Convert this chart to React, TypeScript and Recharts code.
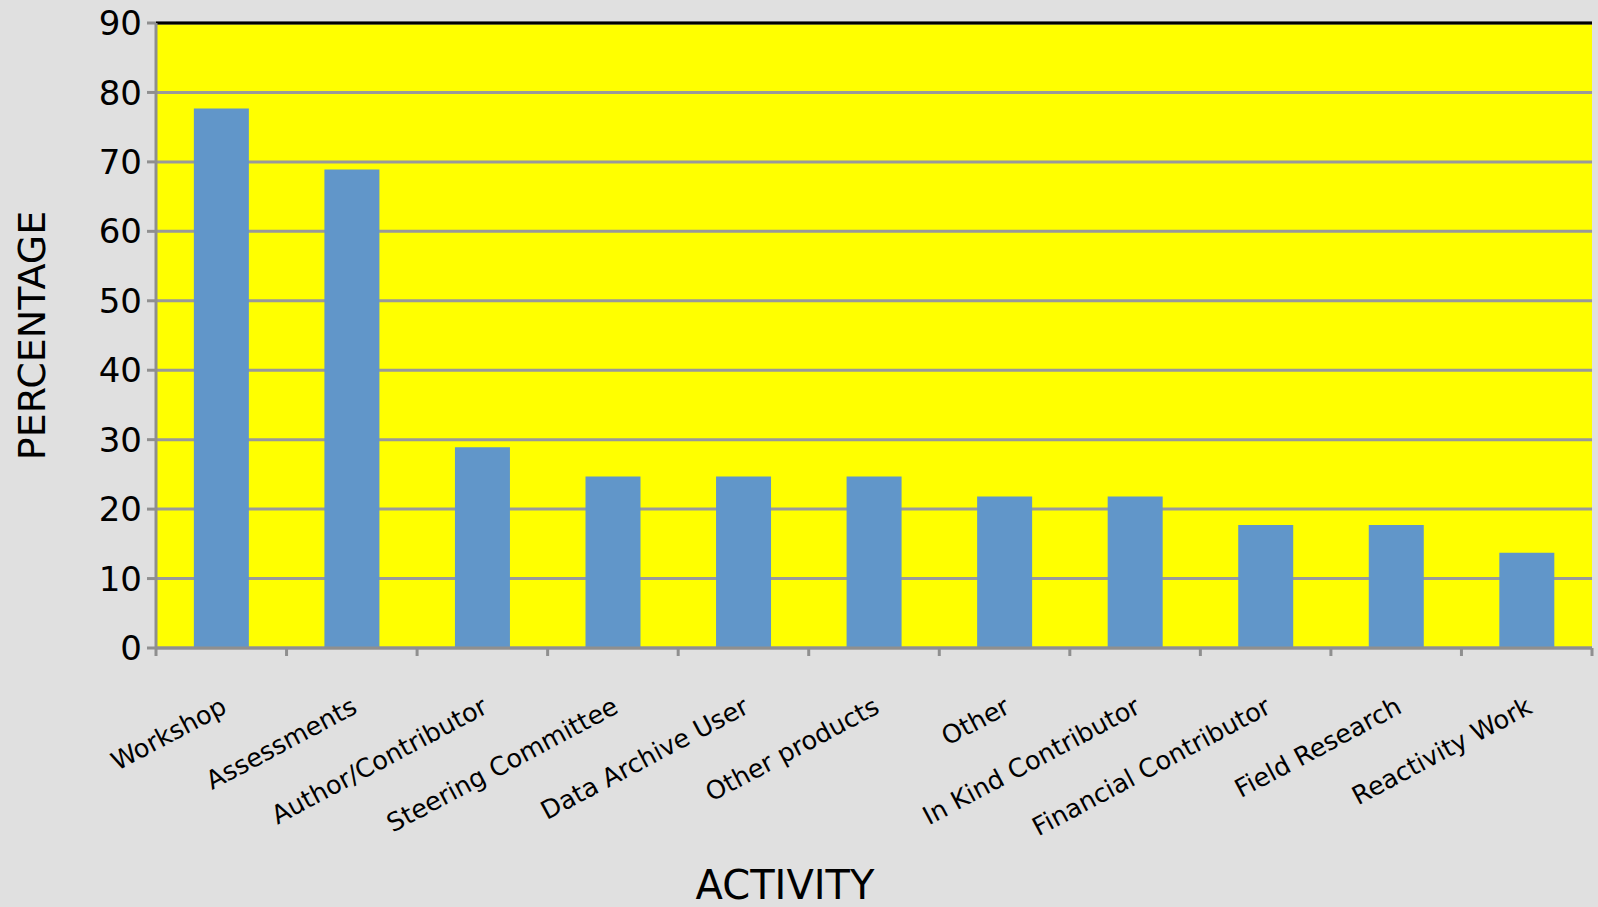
import React from 'react';
import {
  BarChart,
  Bar,
  CartesianGrid,
  XAxis,
  YAxis,
  ReferenceLine,
} from 'recharts';

// activities, in the order they are shown
const categories = [
  'Workshop',
  'Assessments',
  'Author/Contributor',
  'Steering Committee',
  'Data Archive User',
  'Other products',
  'Other',
  'In Kind Contributor',
  'Financial Contributor',
  'Field Research',
  'Reactivity Work',
];

// percentage of respondents per activity
const percentages = [77.7, 68.9, 28.9, 24.7, 24.7, 24.7, 21.8, 21.8, 17.7, 17.7, 13.7];

const yTicks = [0, 10, 20, 30, 40, 50, 60, 70, 80, 90];

const FONT = '"DejaVu Sans", Verdana, sans-serif';

const chartData = categories.map((activity, i) => ({
  activity,
  value: percentages[i],
}));

// category label plus tick marks on the band edges
const ActivityTick = (props: any) => {
  const { x, y, payload, index } = props;
  const half = payload?.offset ?? 65;
  const last = index === categories.length - 1;
  return (
    <g>
      <line x1={x - half} y1={y} x2={x - half} y2={y + 8} stroke="#8f8f8f" strokeWidth={3} />
      {last && (
        <line x1={x + half} y1={y} x2={x + half} y2={y + 8} stroke="#8f8f8f" strokeWidth={3} />
      )}
      <text
        x={x + 7}
        y={y + 64}
        textAnchor="end"
        transform={`rotate(-28, ${x + 7}, ${y + 64})`}
        fill="#000"
        fontFamily={FONT}
        fontSize={25.5}
      >
        {payload.value}
      </text>
    </g>
  );
};

export default function App() {
  return (
    <div
      style={{
        position: 'absolute',
        left: 0,
        top: 0,
        width: 1598,
        height: 907,
        background: '#e0e0e0',
      }}
    >
      <BarChart
        width={1598}
        height={907}
        data={chartData}
        margin={{ top: 23, right: 6, left: 0, bottom: 0 }}
        barCategoryGap="29%"
      >
        <CartesianGrid
          vertical={false}
          stroke="#999999"
          strokeWidth={3}
          fill="#ffff00"
          fillOpacity={1}
        />
        <XAxis
          dataKey="activity"
          height={259}
          interval={0}
          tickSize={0}
          tickMargin={0}
          tickLine={false}
          axisLine={{ stroke: '#8f8f8f', strokeWidth: 3 }}
          tick={<ActivityTick />}
          label={{
            content: (p: any) => {
              const vb = p.viewBox;
              return (
                <text
                  x={vb.x + vb.width / 2 - 89}
                  y={899}
                  textAnchor="middle"
                  fill="#000"
                  fontFamily={FONT}
                  fontSize={40}
                >
                  ACTIVITY
                </text>
              );
            },
          }}
        />
        <YAxis
          domain={[0, 90]}
          ticks={yTicks}
          interval={0}
          width={156}
          tickSize={9}
          tickMargin={5}
          tickLine={{ stroke: '#8f8f8f', strokeWidth: 3 }}
          axisLine={{ stroke: '#8f8f8f', strokeWidth: 3 }}
          tick={{ fill: '#000', fontSize: 34, fontFamily: FONT }}
          label={{
            value: 'PERCENTAGE',
            angle: -90,
            position: 'insideLeft',
            offset: 32,
            style: { textAnchor: 'middle', fill: '#000', fontSize: 38, fontFamily: FONT },
          }}
        />
        <YAxis
          yAxisId="frame"
          orientation="right"
          domain={[0, 90]}
          width={0}
          tick={false}
          tickLine={false}
          axisLine={{ stroke: '#000', strokeWidth: 3 }}
        />
        <ReferenceLine y={90} stroke="#000" strokeWidth={3} />
        <Bar dataKey="value" fill="#6196c9" isAnimationActive={false} />
      </BarChart>
    </div>
  );
}
